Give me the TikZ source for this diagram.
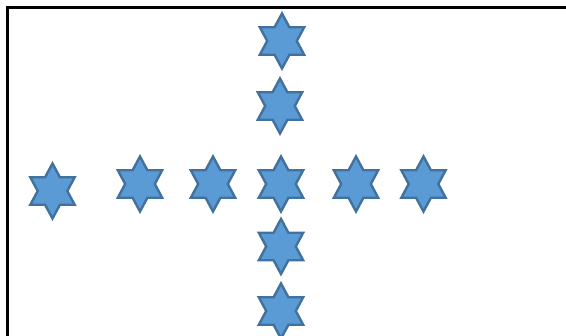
\documentclass[tikz,border=0pt]{standalone}
\usetikzlibrary{calc}
\definecolor{starfill}{HTML}{5B9BD5}
\definecolor{starline}{HTML}{41719C}
\tikzset{
  hexstar/.pic={
    \draw[starline, fill=starfill, line width=2.4pt, line join=miter]
      (90:25.6 and 27.5) -- (60:14.8 and 15.9) -- (30:25.6 and 27.5) -- (0:14.8 and 15.9)
      -- (-30:25.6 and 27.5) -- (-60:14.8 and 15.9) -- (-90:25.6 and 27.5) -- (-120:14.8 and 15.9)
      -- (-150:25.6 and 27.5) -- (180:14.8 and 15.9) -- (150:25.6 and 27.5) -- (120:14.8 and 15.9) -- cycle;
  },
  frameline/.style={line width=2.2pt, black}
}
\begin{document}
\begin{tikzpicture}[x=1pt,y=-1pt]
\useasboundingbox (0,0) rectangle (566,336);
\clip (0,0) rectangle (566,336);
\fill[white] (0,0) rectangle (566,336);
\draw[frameline] (7.5,340) -- (7.5,7.5) -- (570,7.5);
\foreach \px/\py [count=\i] in {282/41, 280/106, 52.5/191, 140/184, 213/184, 281/184, 356/184, 423.5/184, 281/246.5, 281/311}
  \pic (s\i) at (\px,\py) {hexstar};
\end{tikzpicture}
\end{document}
